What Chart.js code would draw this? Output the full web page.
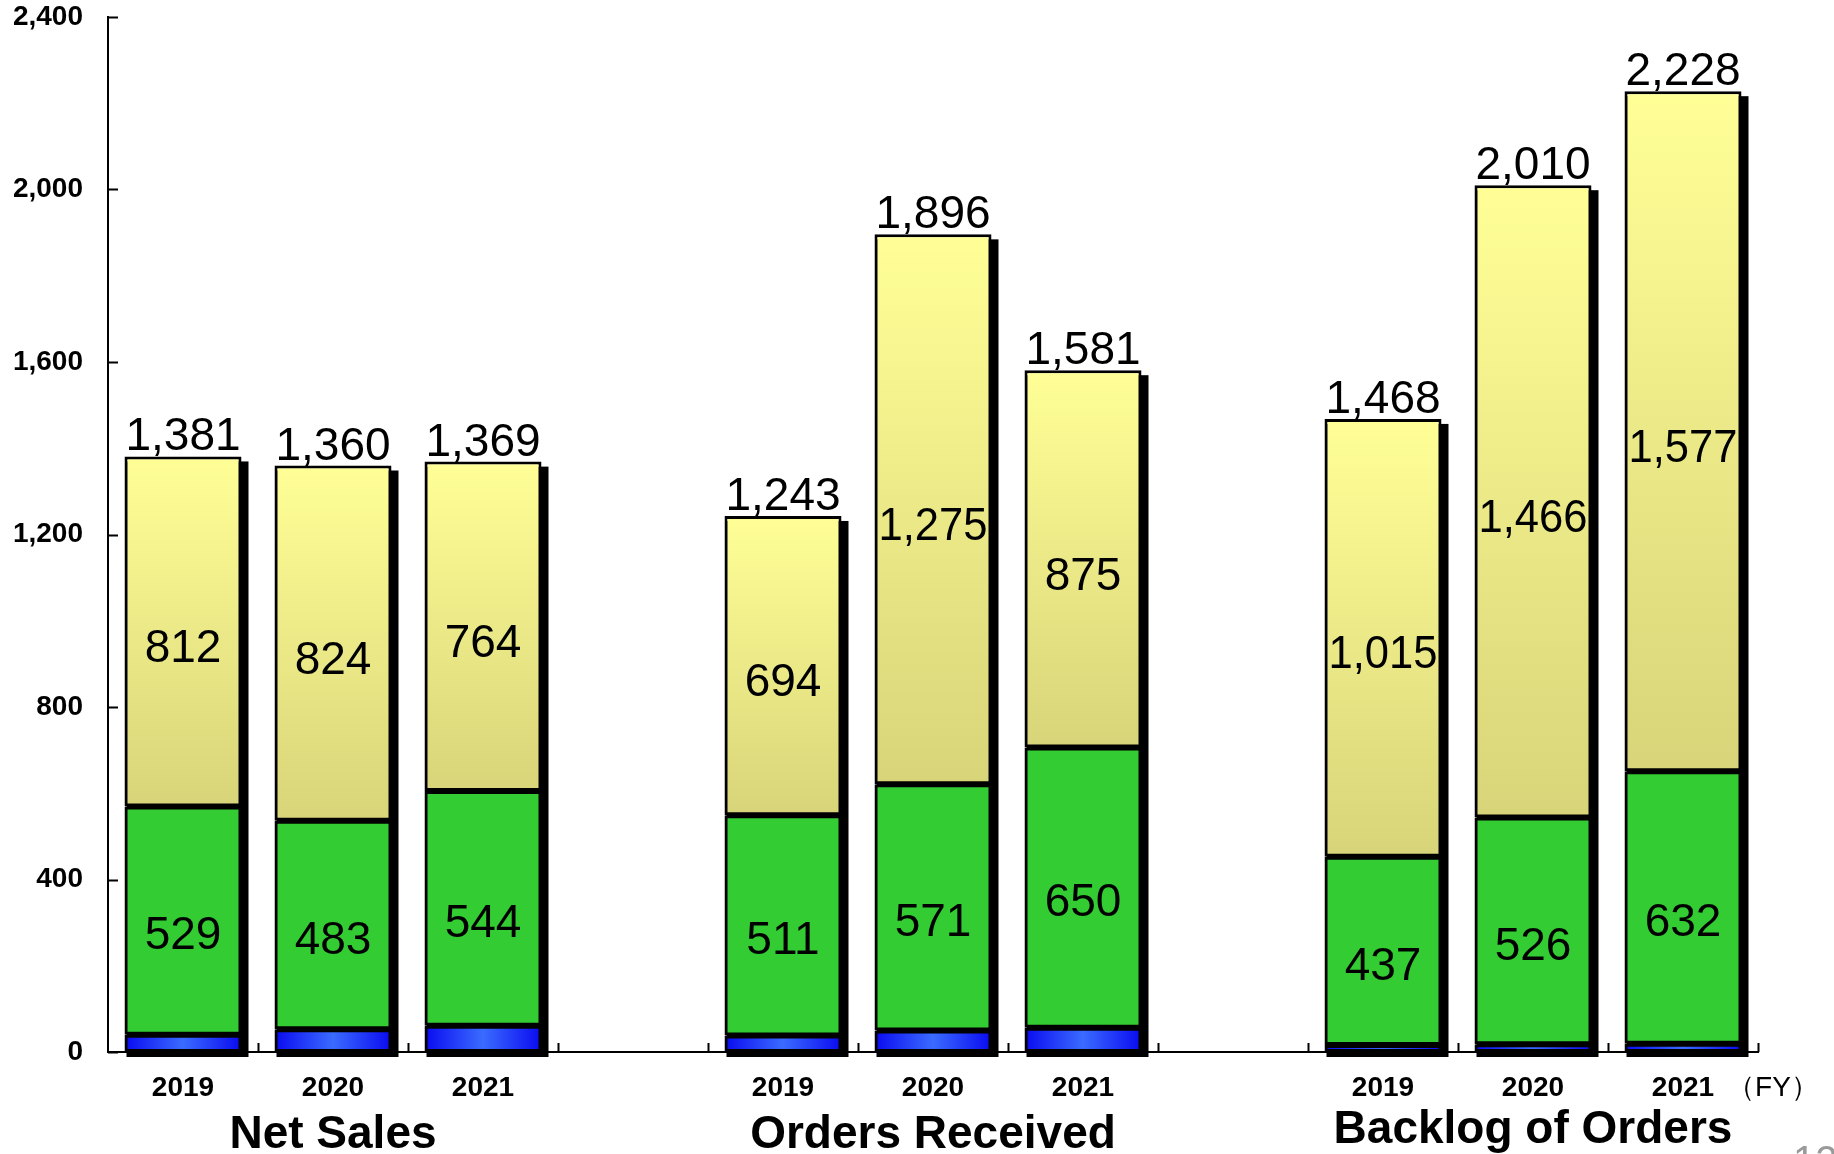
<!DOCTYPE html>
<html>
<head>
<meta charset="utf-8">
<script src="https://cdn.jsdelivr.net/npm/chart.js@4.4.0/dist/chart.umd.min.js"></script>
<style>
  html, body { margin: 0; padding: 0; background: #fff; }
  #wrap { width: 1834px; height: 1154px; position: relative; }
</style>
</head>
<body>
<div id="wrap"><canvas id="chart"></canvas></div>
<script>
// data (FY, stacked: blue + green + yellow = total)
const categories = ["2019", "2020", "2021", "", "2019", "2020", "2021", "", "2019", "2020", "2021"];
const blueValues = [40, 53, 61, null, 38, 50, 56, null, 16, 18, 19];
const greenValues = [529, 483, 544, null, 511, 571, 650, null, 437, 526, 632];
const yellowValues = [812, 824, 764, null, 694, 1275, 875, null, 1015, 1466, 1577];
const totalValues = [1381, 1360, 1369, null, 1243, 1896, 1581, null, 1468, 2010, 2228];
const groupTitles = ["Net Sales", "Orders Received", "Backlog of Orders"];
const groupIndex = [1, 5, 9];
const yTicks = [0, 400, 800, 1200, 1600, 2000, 2400];

const FONT = "'Liberation Sans', Arial, sans-serif";
const BAR_PCT = 0.78;

function barHalf(chart) {
    const x = chart.scales.x;
    return (x.getPixelForValue(1) - x.getPixelForValue(0)) * BAR_PCT / 2;
}

// yellow: vertical gradient per bar
function yellowFill(ctx) {
    const chart = ctx.chart;
    if (!chart.chartArea || ctx.dataIndex === undefined) return "#f5f38a";
    const i = ctx.dataIndex;
    const y = chart.scales.y;
    const base = (blueValues[i] ?? 0) + (greenValues[i] ?? 0);
    const top = y.getPixelForValue(base + (yellowValues[i] ?? 0));
    const bottom = y.getPixelForValue(base);
    if (!isFinite(top) || !isFinite(bottom) || top === bottom) return "#f5f38a";
    const g = chart.ctx.createLinearGradient(0, top, 0, bottom);
    g.addColorStop(0, "#ffff96");
    g.addColorStop(1, "#d8d479");
    return g;
}

// blue: horizontal gradient, dark edges, light centre
function blueFill(ctx) {
    const chart = ctx.chart;
    if (!chart.chartArea || ctx.dataIndex === undefined) return "#2050ff";
    const cx = chart.scales.x.getPixelForValue(ctx.dataIndex);
    const h = barHalf(chart);
    if (!isFinite(cx) || !isFinite(h)) return "#2050ff";
    const g = chart.ctx.createLinearGradient(cx - h, 0, cx + h, 0);
    g.addColorStop(0, "#0a0af0");
    g.addColorStop(0.5, "#3a6bff");
    g.addColorStop(1, "#0a0af0");
    return g;
}

// black drop shadow behind each whole stack
const shadowPlugin = {
    id: "shadow",
    beforeDatasetsDraw(chart) {
        const { ctx } = chart;
        const meta = chart.getDatasetMeta(2);
        const zero = chart.scales.y.getPixelForValue(0);
        ctx.save();
        ctx.fillStyle = "#000";
        meta.data.forEach((el, i) => {
            if (totalValues[i] == null) return;
            const w = el.width;
            ctx.fillRect(el.x - w / 2 + 2, el.y + 5, w + 5, zero - el.y);
        });
        ctx.restore();
    },
};

// numbers inside segments and totals on top
const labelPlugin = {
    id: "labels",
    afterDatasetsDraw(chart) {
        const { ctx } = chart;
        ctx.save();
        ctx.fillStyle = "#000";
        ctx.textAlign = "center";
        ctx.textBaseline = "middle";
        ctx.font = `46px ${FONT}`;
        [[1, greenValues, 16], [2, yellowValues, 18]].forEach(([d, vals, dy]) => {
            chart.getDatasetMeta(d).data.forEach((el, i) => {
                if (vals[i] == null) return;
                const mid = (el.y + el.base) / 2 + dy;
                ctx.fillText(vals[i].toLocaleString("en-US"), el.x, mid, el.width - 8);
            });
        });
        ctx.textBaseline = "alphabetic";
        chart.getDatasetMeta(2).data.forEach((el, i) => {
            if (totalValues[i] == null) return;
            ctx.fillText(totalValues[i].toLocaleString("en-US"), el.x, el.y - 6);
        });
        ctx.restore();
    },
};

// inward ticks, group titles, (FY), page number
const decorPlugin = {
    id: "decor",
    afterDraw(chart) {
        const { ctx, chartArea } = chart;
        const x = chart.scales.x;
        const y = chart.scales.y;
        ctx.save();
        ctx.strokeStyle = "#000";
        ctx.lineWidth = 2;
        ctx.beginPath();
        yTicks.forEach(v => {
            const py = Math.round(y.getPixelForValue(v)) + 0.5;
            ctx.moveTo(chartArea.left, py);
            ctx.lineTo(chartArea.left + 10, py);
        });
        for (let i = 1; i <= categories.length; i++) {
            const px = Math.round(x.getPixelForValue(i - 0.5)) + 0.5;
            ctx.moveTo(px, chartArea.bottom);
            ctx.lineTo(px, chartArea.bottom - 9);
        }
        ctx.stroke();

        ctx.fillStyle = "#000";
        ctx.textAlign = "center";
        ctx.textBaseline = "alphabetic";
        ctx.font = `bold 46px ${FONT}`;
        groupTitles.forEach((t, k) => {
            const lift = k === 2 ? 5 : 0;
            ctx.fillText(t, x.getPixelForValue(groupIndex[k]), chartArea.bottom + 96 - lift);
        });

        ctx.font = `28px ${FONT}`;
        ctx.textBaseline = "middle";
        ctx.fillText("（FY）", chartArea.right + 15, chartArea.bottom + 36);

        ctx.fillStyle = "#9a9a9a";
        ctx.font = `40px ${FONT}`;
        ctx.textAlign = "left";
        ctx.textBaseline = "top";
        ctx.fillText("12", 1793, 1143);
        ctx.restore();
    },
};

const common = {
    borderColor: "#000",
    borderWidth: 3,
    borderSkipped: false,
    barPercentage: BAR_PCT,
    categoryPercentage: 1,
};

new Chart(document.getElementById("chart"), {
    type: "bar",
    data: {
        labels: categories,
        datasets: [
            { label: "blue", data: blueValues, backgroundColor: blueFill, ...common },
            { label: "green", data: greenValues, backgroundColor: "#33cc33", ...common },
            { label: "yellow", data: yellowValues, backgroundColor: yellowFill, ...common },
        ],
    },
    options: {
        responsive: true,
        maintainAspectRatio: false,
        animation: false,
        layout: { padding: { top: 17, right: 76, left: 0, bottom: 0 } },
        plugins: {
            legend: { display: false },
            tooltip: { enabled: false },
        },
        scales: {
            x: {
                stacked: true,
                grid: { display: false, drawTicks: false },
                border: { display: true, color: "#000", width: 2 },
                ticks: {
                    color: "#000",
                    padding: 19,
                    maxRotation: 0,
                    autoSkip: false,
                    font: { family: FONT, size: 28, weight: "bold" },
                },
                afterFit: s => { s.height = 102; },
            },
            y: {
                stacked: true,
                min: 0,
                max: 2400,
                grid: { display: false, drawTicks: false },
                border: { display: true, color: "#000", width: 2 },
                afterBuildTicks: s => { s.ticks = yTicks.map(v => ({ value: v })); },
                ticks: {
                    color: "#000",
                    padding: 25,
                    font: { family: FONT, size: 28, weight: "bold" },
                    callback: v => v.toLocaleString("en-US"),
                },
                afterFit: s => { s.width = 108; s.paddingTop = 0; },
            },
        },
    },
    plugins: [shadowPlugin, labelPlugin, decorPlugin],
});
</script>
</body>
</html>
